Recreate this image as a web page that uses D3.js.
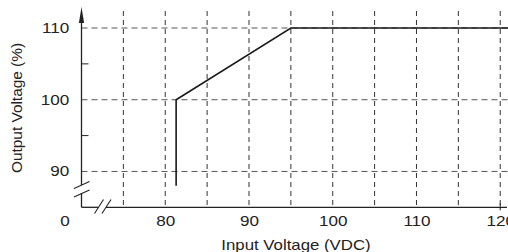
<!DOCTYPE html>
<html>
<head>
<meta charset="utf-8">
<script src="https://cdn.jsdelivr.net/npm/d3@7"></script>
<style>
  body { margin: 0; background: #fff; }
  svg { display: block; }
  text { font-family: "Liberation Sans", Arial, sans-serif; fill: #222; }
</style>
</head>
<body>
<div id="chart"></div>
<script>
// data
var inputVoltage = [81.3, 81.3, 95, 121];
var outputVoltage = [88, 100, 110, 110];

var xGridValues = [75, 80, 85, 90, 95, 100, 105, 110, 115, 120];
var xTickLabels = [80, 90, 100, 110, 120];
var yGridValues = [90, 100, 110];
var yMinorTicks = [95, 105];
var yTickLabels = [90, 100, 110];

var svgWidth = 508;
var svgHeight = 252;

var svg = d3.select("#chart")
  .append("svg")
  .attr("width", svgWidth)
  .attr("height", svgHeight);

// broken axes: left edge stands for 70 V, bottom edge for 85 %
var xScale = d3.scaleLinear()
  .domain([70, 121])
  .range([81.5, 508.6]);

var yScale = d3.scaleLinear()
  .domain([85, 110])
  .range([207.3, 28]);

var x0 = xScale(70), y0 = yScale(85);

// dashed grid
svg.append("g").selectAll("line")
  .data(xGridValues)
  .enter()
  .append("line")
  .attr("x1", d => xScale(d))
  .attr("x2", d => xScale(d))
  .attr("y1", 11)
  .attr("y2", y0)
  .attr("stroke", "#333")
  .attr("stroke-width", 1)
  .attr("stroke-dasharray", "5,4");

svg.append("g").selectAll("line")
  .data(yGridValues)
  .enter()
  .append("line")
  .attr("x1", x0)
  .attr("x2", svgWidth)
  .attr("y1", d => yScale(d))
  .attr("y2", d => yScale(d))
  .attr("stroke", "#555")
  .attr("stroke-width", 1)
  .attr("stroke-dasharray", "6,4");

// x tick labels through d3 axis (no domain, no ticks)
var bottomAxis = d3.axisBottom(xScale)
  .tickValues(xTickLabels)
  .tickSize(0)
  .tickPadding(9);

var xAxisG = svg.append("g")
  .attr("transform", `translate(0, ${y0})`)
  .call(bottomAxis);
xAxisG.select(".domain").remove();
xAxisG.selectAll("text")
  .attr("font-size", "14px")
  .attr("font-family", null)
  .attr("fill", "#222")
  .attr("transform", "scale(1.22,1)")
  .attr("x", 0);

var leftAxis = d3.axisLeft(yScale)
  .tickValues(yTickLabels)
  .tickSize(0)
  .tickPadding(0);

var yAxisG = svg.append("g")
  .attr("transform", `translate(${x0}, 0)`)
  .call(leftAxis);
yAxisG.select(".domain").remove();
yAxisG.selectAll("text")
  .attr("font-size", "14px")
  .attr("font-family", null)
  .attr("fill", "#222")
  .attr("x", -10)
  .attr("transform", "scale(1.22,1)");

// origin label
svg.append("text")
  .attr("x", 65)
  .attr("y", y0 + 9)
  .attr("dy", "0.71em")
  .attr("font-size", "14px")
  .attr("text-anchor", "middle")
  .attr("transform", "translate(65,0) scale(1.22,1) translate(-65,0)")
  .text("0");

// axis lines with break gaps
var axisColor = "#222";
svg.append("line")
  .attr("x1", x0).attr("x2", x0)
  .attr("y1", 22).attr("y2", 185)
  .attr("stroke", axisColor).attr("stroke-width", 1.3);
svg.append("line")
  .attr("x1", x0).attr("x2", x0)
  .attr("y1", 193).attr("y2", y0)
  .attr("stroke", axisColor).attr("stroke-width", 1.3);
svg.append("line")
  .attr("x1", x0).attr("x2", 98)
  .attr("y1", y0).attr("y2", y0)
  .attr("stroke", axisColor).attr("stroke-width", 1.3);
svg.append("line")
  .attr("x1", 106).attr("x2", 507)
  .attr("y1", y0).attr("y2", y0)
  .attr("stroke", axisColor).attr("stroke-width", 1.3);

// arrow head on y axis
svg.append("path")
  .attr("d", `M${x0},7 L${x0 - 2.6},23 L${x0 + 2.6},23 Z`)
  .attr("fill", axisColor);

// break marks
var breakMarks = [
  [74, 188.5, 89.5, 181.5],
  [74, 197, 89.5, 190],
  [94.5, 213.5, 103.5, 199.5],
  [102, 213.5, 111, 199.5]
];
svg.append("g").selectAll("line")
  .data(breakMarks)
  .enter()
  .append("line")
  .attr("x1", d => d[0]).attr("y1", d => d[1])
  .attr("x2", d => d[2]).attr("y2", d => d[3])
  .attr("stroke", axisColor)
  .attr("stroke-width", 1.1);

// minor ticks on y axis
svg.append("g").selectAll("line")
  .data(yMinorTicks)
  .enter()
  .append("line")
  .attr("x1", x0).attr("x2", x0 + 7)
  .attr("y1", d => yScale(d)).attr("y2", d => yScale(d))
  .attr("stroke", axisColor).attr("stroke-width", 1);

// small tick at 120
svg.append("line")
  .attr("x1", xScale(120)).attr("x2", xScale(120))
  .attr("y1", y0 - 4).attr("y2", y0 + 3)
  .attr("stroke", axisColor).attr("stroke-width", 1);

// characteristic line
var line = d3.line()
  .x((d, i) => xScale(inputVoltage[i]))
  .y(d => yScale(d));

svg.append("path")
  .datum(outputVoltage)
  .attr("d", line)
  .attr("fill", "none")
  .attr("stroke", "#1a1a1a")
  .attr("stroke-width", 1.6);

// axis titles
svg.append("text")
  .attr("transform", "translate(296, 250) scale(1.2,1)")
  .attr("text-anchor", "middle")
  .attr("font-size", "14px")
  .text("Input Voltage (VDC)");

svg.append("text")
  .attr("transform", "translate(22, 108) rotate(-90) scale(1.1,1)")
  .attr("text-anchor", "middle")
  .attr("font-size", "14px")
  .text("Output Voltage (%)");
</script>
</body>
</html>
